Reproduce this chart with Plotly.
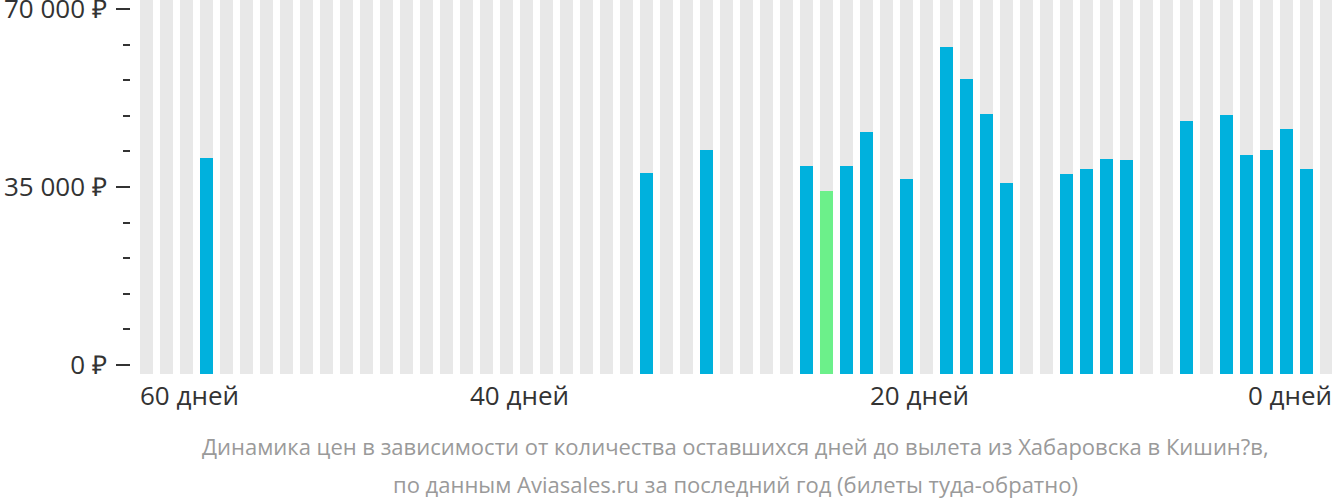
import plotly.graph_objects as go

# Days before departure (grey background columns for every day)
all_days = list(range(59, -1, -1))

# Days with price data and their prices (RUB)
days = [56, 34, 31, 26, 25, 24, 23, 21, 19, 18, 17, 16, 13, 12, 11, 10, 7, 5, 4, 3, 2, 1]
prices = [40700, 37750, 42270, 39130, 34210, 39130, 45810, 36570, 62520, 56230, 49350,
          35780, 37550, 38540, 40500, 40300, 47970, 49150, 41290, 42270, 46400, 38540]
cheapest_day = 25

y_tick_vals = [0, 35000, 70000]
y_tick_text = ["0 ₽", "35 000 ₽", "70 000 ₽"]
x_label_days = [60, 40, 20, 0]
x_label_text = ["60 дней", "40 дней", "20 дней", "0 дней"]

caption_lines = ["Динамика цен в зависимости от количества оставшихся дней до вылета из Хабаровска в Кишин?в,",
                 "по данным Aviasales.ru за последний год (билеты туда-обратно)"]

BASE = -1800
TOP = 72000
BLUE = "#00b1dd"
GREEN = "#6cf08a"
GREY = "#e8e8e8"

colors = [GREEN if d == cheapest_day else BLUE for d in days]

fig = go.Figure()
fig.add_trace(go.Bar(
    x=all_days, y=[TOP - BASE] * len(all_days), base=BASE,
    marker=dict(color=GREY, line=dict(width=0)), width=0.63,
    hoverinfo="skip", showlegend=False))
fig.add_trace(go.Bar(
    x=days, y=[p - BASE for p in prices], base=BASE,
    marker=dict(color=colors, line=dict(width=0)), width=0.63,
    customdata=prices, hovertemplate="%{x} дней: %{customdata} ₽<extra></extra>",
    showlegend=False))

annotations = []
for d, t in zip(x_label_days, x_label_text):
    if d == 60:
        xa, xv, xs = "left", 59.775, 7
    elif d == 0:
        xa, xv, xs = "right", -0.275, 2
    else:
        xa, xv, xs = "center", d, -7
    annotations.append(dict(x=xv, xref="x", y=-0.003, yref="paper", yanchor="top",
                            xanchor=xa, xshift=xs, text=t, showarrow=False,
                            font=dict(size=26, color="#333333", family="Open Sans")))
for i, line in enumerate(caption_lines):
    annotations.append(dict(x=0.5, xref="paper", y=-0.148 - i * 0.1016, yref="paper",
                            yanchor="top", xanchor="center", xshift=4, text=line,
                            showarrow=False,
                            font=dict(size=22, color="#9a9a9a", family="Open Sans")))

fig.update_layout(
    width=1332, height=502,
    margin=dict(l=131, r=0, t=0, b=128, autoexpand=False),
    barmode="overlay",
    bargap=0,
    plot_bgcolor="white", paper_bgcolor="white",
    font=dict(family="Open Sans", color="#333333"),
    xaxis=dict(range=[59.775, -0.275], showticklabels=False, showgrid=False,
               zeroline=False, showline=False, ticks="", fixedrange=True,
               automargin=False),
    yaxis=dict(range=[BASE, 71800], tickvals=y_tick_vals, ticktext=y_tick_text,
               ticks="outside", ticklen=14, tickwidth=2, tickcolor="#333333",
               tickfont=dict(size=26, color="#333333", family="Open Sans"),
               showgrid=False, zeroline=False, showline=False,
               minor=dict(dtick=7000, tick0=0, ticks="outside", ticklen=7,
                          tickwidth=2, tickcolor="#333333", showgrid=False),
               ticklabelstandoff=4, ticklabeloverflow="allow", automargin=False,
               fixedrange=True),
    annotations=annotations,
)

fig.write_html("out.html")
